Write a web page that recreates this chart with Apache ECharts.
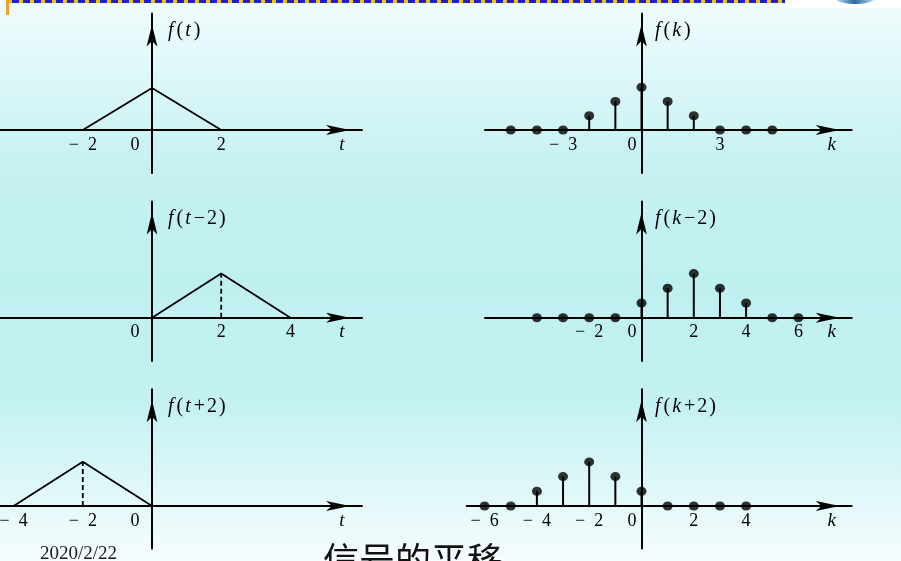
<!DOCTYPE html>
<html><head><meta charset="utf-8">
<script src="https://cdn.jsdelivr.net/npm/echarts@6/dist/echarts.min.js"></script>
<style>html,body{margin:0;padding:0;background:#fff;}#c{width:901px;height:561px;}</style>
</head><body><div id="c"></div>
<script>
// ---- continuous-time signal f(t) (triangle) and its shifts ----
const tOriginal = [-2, 0, 2];
const fOriginal = [0, 1, 0];
const tDelayed  = [0, 2, 4];     // f(t-2)
const fDelayed  = [0, 1, 0];
const tAdvanced = [-4, -2, 0];   // f(t+2)
const fAdvanced = [0, 1, 0];

// ---- discrete-time sequence f(k) and its shifts ----
const kOriginal  = [-5, -4, -3, -2, -1, 0, 1, 2, 3, 4, 5];
const fkOriginal = [0, 0, 0, 1, 2, 3, 2, 1, 0, 0, 0];
const kDelayed   = [-4, -3, -2, -1, 0, 1, 2, 3, 4, 5, 6];       // f(k-2)
const fkDelayed  = [0, 0, 0, 0, 1, 2, 3, 2, 1, 0, 0];
const kAdvanced  = [-6, -5, -4, -3, -2, -1, 0, 1, 2, 3, 4];     // f(k+2)
const fkAdvanced = [0, 0, 1, 2, 3, 2, 1, 0, 0, 0, 0];

// ---- tick labels ----
const ticksT1 = [-2, 0, 2];
const ticksT2 = [0, 2, 4];
const ticksT3 = [-4, -2, 0];
const ticksK1 = [-3, 0, 3];
const ticksK2 = [-2, 0, 2, 4, 6];
const ticksK3 = [-6, -4, -2, 0, 2, 4];

// ---- texts ----
const yNames = ['{i|f}{n|(}{i|t}{n|)}', '{i|f}{n|(}{i|k}{n|)}',
                '{i|f}{n|(}{i|t}{n|−}{n|2}{n|)}', '{i|f}{n|(}{i|k}{n|−}{n|2}{n|)}',
                '{i|f}{n|(}{i|t}{n|+}{n|2}{n|)}', '{i|f}{n|(}{i|k}{n|+}{n|2}{n|)}'];
const footerDate = '2020/2/22';
const footerTitle = '信号的平移';

// ---- layout (pixels) ----
const SERIF = 'Liberation Serif';
const rows = [
  {top: 13.5, axis: 130, bottom: 173, unitT: 42, unitK: 14.25},
  {top: 201.5, axis: 317.7, bottom: 361, unitT: 44.3, unitK: 14.7},
  {top: 389.3, axis: 506, bottom: 548.5, unitT: 44.3, unitK: 14.7}
];
const cols = [
  {origin: 152, unit: 34.6, left: [0, 0, 0], right: 362, nameGap: 16, zeroPad: 34, axisName: 't'},
  {origin: 641.5, unit: 26.15, left: [485, 485, 466.7], right: 851.7, nameGap: 13.5, zeroPad: 19, axisName: 'k'}
];

const panels = [
  {r: 0, c: 0, kind: 'cont', x: tOriginal, y: fOriginal, ticks: ticksT1, dash: false},
  {r: 0, c: 1, kind: 'disc', x: kOriginal, y: fkOriginal, ticks: ticksK1},
  {r: 1, c: 0, kind: 'cont', x: tDelayed, y: fDelayed, ticks: ticksT2, dash: true},
  {r: 1, c: 1, kind: 'disc', x: kDelayed, y: fkDelayed, ticks: ticksK2},
  {r: 2, c: 0, kind: 'cont', x: tAdvanced, y: fAdvanced, ticks: ticksT3, dash: true},
  {r: 2, c: 1, kind: 'disc', x: kAdvanced, y: fkAdvanced, ticks: ticksK3}
];

const grids = [], xAxes = [], yAxes = [], series = [];
panels.forEach((p, idx) => {
  const row = rows[p.r], col = cols[p.c];
  const left = col.left[p.r];
  const unitY = p.kind === 'cont' ? row.unitT : row.unitK;
  grids.push({left: left, top: row.top, width: col.right - left, height: row.bottom - row.top,
              containLabel: false, outerBoundsMode: 'none'});
  xAxes.push({
    type: 'value', gridIndex: idx, position: 'bottom',
    offset: -(row.bottom - row.axis),
    min: (left - col.origin) / col.unit, max: (col.right - col.origin) / col.unit,
    axisLine: {onZero: false, lineStyle: {color: '#000', width: 2},
               symbol: ['none', 'arrow'], symbolSize: [7.5, 24], symbolOffset: [0, -12]},
    axisTick: {show: false}, splitLine: {show: false},
    axisLabel: {
      customValues: p.ticks, margin: 6, color: '#000', fontFamily: SERIF, fontSize: 18,
      formatter: v => v === 0 ? '{z|0}' : (v < 0 ? '−  ' + (-v) : String(v)),
      rich: {z: {padding: [0, col.zeroPad, 0, 0], fontFamily: SERIF, fontSize: 18, color: '#000'}}
    },
    name: col.axisName, nameLocation: 'end', nameGap: -20,
    nameTextStyle: {fontFamily: SERIF, fontStyle: 'italic', fontSize: 19, color: '#000',
                    align: 'center', verticalAlign: 'top', padding: [5, 0, 0, 0]}
  });
  yAxes.push({
    type: 'value', gridIndex: idx,
    max: (row.axis - row.top) / unitY, min: -(row.bottom - row.axis) / unitY,
    axisLine: {onZero: true, lineStyle: {color: '#000', width: 2},
               symbol: ['none', 'arrow'], symbolSize: [8, 22], symbolOffset: [0, -11]},
    axisTick: {show: false}, splitLine: {show: false}, axisLabel: {show: false},
    name: yNames[idx], nameLocation: 'end', nameGap: -17.5,
    nameTextStyle: {align: 'left', verticalAlign: 'middle', padding: [0, 0, 0, col.nameGap],
      rich: {
        i: {fontFamily: SERIF, fontStyle: 'italic', fontSize: 20, color: '#000', padding: [0, 3, 0, 0]},
        n: {fontFamily: SERIF, fontSize: 20, color: '#000', padding: [0, 2, 0, 0]}
      }}
  });
  const pts = p.x.map((x, i) => [x, p.y[i]]);
  if (p.kind === 'cont') {
    series.push({type: 'line', xAxisIndex: idx, yAxisIndex: idx, data: pts, symbol: 'none',
                 lineStyle: {color: '#000', width: 1.8}, silent: true, z: 3});
    if (p.dash) {
      let m = 0; p.y.forEach((v, i) => { if (v > p.y[m]) m = i; });
      series.push({type: 'line', xAxisIndex: idx, yAxisIndex: idx,
                   data: [[p.x[m], 0], [p.x[m], p.y[m]]], symbol: 'none',
                   lineStyle: {color: '#000', width: 1.8, type: [5, 3]}, silent: true, z: 3});
    }
  } else {
    series.push({type: 'bar', xAxisIndex: idx, yAxisIndex: idx, data: pts, barWidth: 2,
                 itemStyle: {color: '#000'}, silent: true, z: 3});
    series.push({type: 'scatter', xAxisIndex: idx, yAxisIndex: idx, data: pts,
                 symbol: 'circle', symbolSize: [10, 9], itemStyle: {color: '#000'}, silent: true, z: 4});
  }
});

const chart = echarts.init(document.getElementById('c'), null, {renderer: 'canvas'});
chart.setOption({
  animation: false,
  backgroundColor: {type: 'linear', x: 0, y: 0, x2: 0, y2: 1, colorStops: [
    {offset: 0, color: '#f0fcfd'}, {offset: 0.3, color: '#c6f1f2'}, {offset: 0.5, color: '#bff0f0'},
    {offset: 0.72, color: '#c4f1f2'}, {offset: 1, color: '#f6fdfe'}]},
  grid: grids, xAxis: xAxes, yAxis: yAxes, series: series,
  graphic: [
    {type: 'rect', shape: {x: 8, y: 0, width: 777, height: 3}, style: {fill: '#1f1fd0'}, silent: true},
    {type: 'line', shape: {x1: 8, y1: 1.5, x2: 785, y2: 1.5}, style: {stroke: '#f2c200', lineWidth: 3, lineDash: [4, 7]}, silent: true},
    {type: 'rect', shape: {x: 6, y: 0, width: 3, height: 15}, style: {fill: '#f5a01a'}, silent: true},
    {type: 'rect', shape: {x: 785, y: 0, width: 116, height: 8}, style: {fill: '#ffffff'}, silent: true},
    {type: 'ellipse', shape: {cx: 855, cy: -1, rx: 19, ry: 5}, silent: true,
     style: {fill: {type: 'linear', x: 0, y: 0, x2: 1, y2: 0, colorStops: [
       {offset: 0, color: '#b8d6ea'}, {offset: 0.5, color: '#2b6ba6'}, {offset: 1, color: '#b8d6ea'}]}}},
    {type: 'text', x: 40, y: 554, silent: true,
     style: {text: footerDate, fontFamily: SERIF, fontSize: 19, fill: '#1a1a1a', verticalAlign: 'middle'}},
    {type: 'text', x: 323, y: 560, silent: true,
     style: {text: footerTitle, fontFamily: 'Noto Sans CJK SC', fontSize: 36, fill: '#111', verticalAlign: 'middle'}}
  ]
});
</script></body></html>
